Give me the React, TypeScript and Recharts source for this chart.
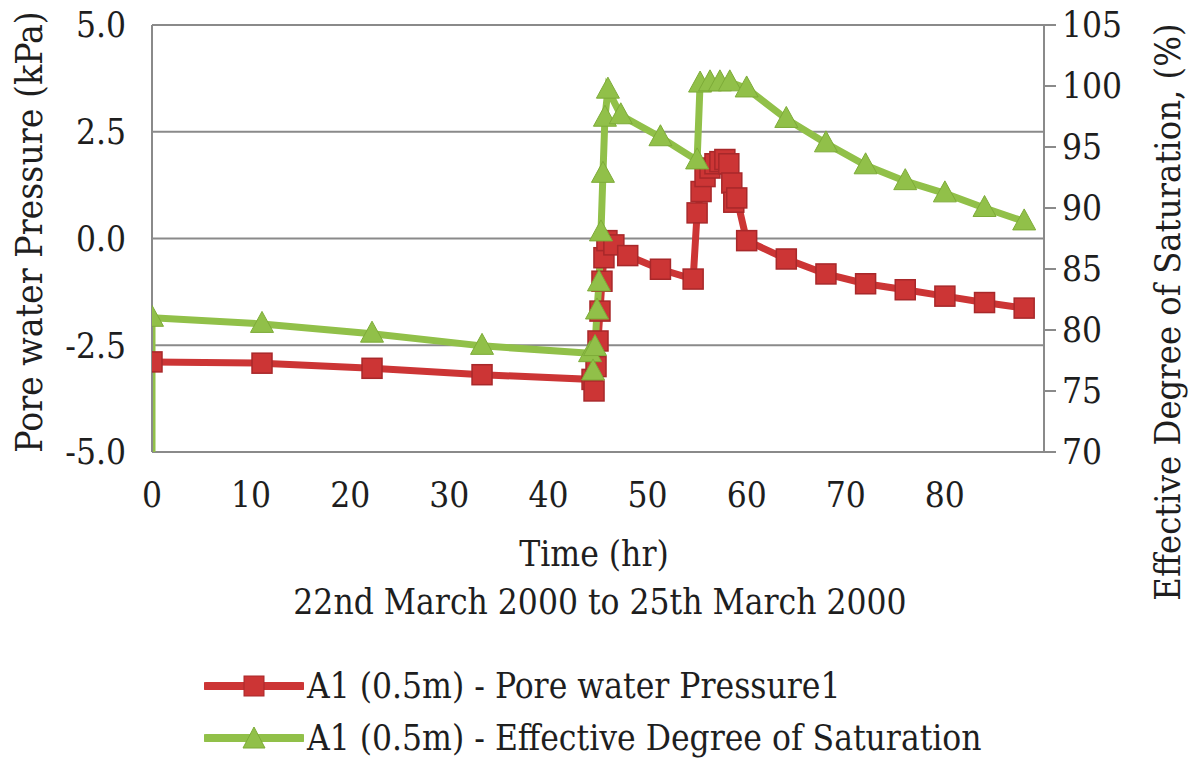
import React from "react";
import {
  ComposedChart,
  Line,
  XAxis,
  YAxis,
  CartesianGrid,
  Legend,
} from "recharts";

// Time (hr) of each pore water pressure reading, A1 at 0.5 m depth
const pressureTimes = [
  0, 11.1, 22.2, 33.3, 44.4, 44.6, 44.8, 45.0, 45.2, 45.4, 45.6, 45.9, 46.6,
  48.0, 51.3, 54.6, 55.0, 55.4, 55.8, 56.3, 56.8, 57.3, 57.8, 58.2, 58.5, 58.7,
  59.0, 60.0, 64, 68, 72, 76, 80, 84, 88,
];
// Pore water pressure (kPa)
const pressureValues = [
  -2.89, -2.92, -3.04, -3.19, -3.3, -3.57, -3.0, -2.4, -1.7, -1.0, -0.45,
  -0.05, -0.15, -0.4, -0.72, -0.95, 0.6, 1.1, 1.45, 1.65, 1.75, 1.8, 1.85, 1.75,
  1.3, 0.85, 0.95, -0.05, -0.48, -0.83, -1.06, -1.2, -1.35, -1.5, -1.63,
];

// Time (hr) of each effective degree of saturation reading
const saturationTimes = [
  0, 0, 11.1, 22.2, 33.3, 44.2, 44.5, 44.7, 44.9, 45.1, 45.3, 45.5, 45.7, 46.0,
  47.3, 51.3, 55.0, 55.3, 56.3, 57.3, 58.3, 60.0, 64, 68, 72, 76, 80, 84, 88,
];
// Effective degree of saturation (%)
const saturationValues = [
  0, 81.0, 80.5, 79.7, 78.7, 78.1, 76.6, 78.6, 81.6, 83.9, 88.0, 92.8, 97.4,
  99.7, 97.6, 95.8, 93.9, 100.2, 100.3, 100.3, 100.3, 99.8, 97.3, 95.3, 93.5,
  92.2, 91.2, 90.0, 88.9,
];

const timeTicks = [0, 10, 20, 30, 40, 50, 60, 70, 80];
const pressureTicks = [-5, -2.5, 0, 2.5, 5];
const saturationTicks = [70, 75, 80, 85, 90, 95, 100, 105];

const pressureName = "A1 (0.5m) - Pore water Pressure1";
const saturationName = "A1 (0.5m) - Effective Degree of Saturation";

const pressureData = pressureTimes.map((t, i) => ({ t, v: pressureValues[i] }));
const saturationData = saturationTimes.map((t, i) => ({
  t,
  v: saturationValues[i],
}));

const RED = "#cc3535";
const RED_EDGE = "#a8282a";
const GREEN = "#91c049";
const GREEN_EDGE = "#7dab38";
const GRID = "#8a8a8a";
const TEXT = "#1e1e1e";
const FONT = "DejaVu Serif Condensed, DejaVu Serif, serif";
const textStyle = { fontFamily: FONT, fontStretch: "condensed" } as const;

const Square = (props: any) => {
  const { cx, cy } = props;
  if (cx == null || cy == null) return <g />;
  const s = 20;
  return (
    <rect
      x={cx - s / 2}
      y={cy - s / 2}
      width={s}
      height={s}
      fill={RED}
      stroke={RED_EDGE}
      strokeWidth={1.5}
    />
  );
};

const Triangle = (props: any) => {
  const { cx, cy } = props;
  if (cx == null || cy == null) return <g />;
  const w = 23;
  const h = 21;
  return (
    <polygon
      points={`${cx},${cy - h / 2 - 2} ${cx - w / 2},${cy + h / 2 - 2} ${cx + w / 2},${cy + h / 2 - 2}`}
      fill={GREEN}
      stroke={GREEN_EDGE}
      strokeWidth={1}
    />
  );
};

const LegendIcon = ({ kind }: { kind: "square" | "triangle" }) => (
  <svg width={100} height={30} style={{ display: "block" }}>
    <line
      x1={2}
      y1={15}
      x2={98}
      y2={15}
      stroke={kind === "square" ? RED : GREEN}
      strokeWidth={8}
      strokeLinecap="round"
    />
    {kind === "square" ? (
      <rect x={40} y={5} width={20} height={20} fill={RED} stroke={RED_EDGE} />
    ) : (
      <polygon points="50,4 39,25 61,25" fill={GREEN} stroke={GREEN_EDGE} />
    )}
  </svg>
);

const renderLegend = () => (
  <div style={{ ...textStyle, fontSize: 35, color: TEXT, lineHeight: "52px" }}>
    {[
      { name: pressureName, kind: "square" as const },
      { name: saturationName, kind: "triangle" as const },
    ].map((row) => (
      <div key={row.name} style={{ display: "flex", alignItems: "center" }}>
        <LegendIcon kind={row.kind} />
        <span style={{ marginLeft: 3, whiteSpace: "nowrap" }}>{row.name}</span>
      </div>
    ))}
  </div>
);

const TimeLabel = (props: any) => {
  const { viewBox } = props;
  const cx = viewBox.x + viewBox.width / 2;
  return (
    <g style={textStyle} fontSize={35} fill={TEXT} textAnchor="middle">
      <text x={cx - 4} y={566}>
        Time (hr)
      </text>
      <text x={cx + 2} y={614}>
        22nd March 2000 to 25th March 2000
      </text>
    </g>
  );
};

const PressureLabel = () => (
  <text
    x={0}
    y={0}
    transform="translate(42, 232) rotate(-90)"
    textAnchor="middle"
    style={textStyle}
    fontSize={37}
    fill={TEXT}
  >
    Pore water Pressure (kPa)
  </text>
);

const SaturationLabel = () => (
  <text
    x={0}
    y={0}
    transform="translate(1180, 312) rotate(-90)"
    textAnchor="middle"
    style={textStyle}
    fontSize={36}
    fill={TEXT}
  >
    Effective Degree of Saturation, (%)
  </text>
);

const tickStyle = { ...textStyle, fontSize: 35, fill: TEXT };

export default function App() {
  return (
    <div
      style={{
        position: "absolute",
        left: 0,
        top: 0,
        width: 1197,
        height: 762,
        background: "#ffffff",
        ...textStyle,
      }}
    >
      <ComposedChart
        width={1197}
        height={762}
        margin={{ top: 25, right: 0, bottom: 0, left: 0 }}
        style={textStyle}
      >
        <CartesianGrid
          yAxisId="p"
          vertical={false}
          stroke={GRID}
          strokeWidth={2}
        />
        <XAxis
          dataKey="t"
          type="number"
          domain={[0, 90]}
          ticks={timeTicks}
          allowDataOverflow
          axisLine={false}
          tickLine={false}
          tickSize={0}
          tickMargin={30}
          height={310}
          tick={tickStyle}
          label={<TimeLabel />}
        />
        <YAxis
          yAxisId="p"
          orientation="left"
          width={152}
          domain={[-5, 5]}
          ticks={pressureTicks}
          allowDataOverflow
          tickFormatter={(v: number) => v.toFixed(1)}
          axisLine={{ stroke: GRID, strokeWidth: 2 }}
          tickLine={false}
          tickSize={0}
          tickMargin={26}
          tick={tickStyle}
          label={<PressureLabel />}
        />
        <YAxis
          yAxisId="s"
          orientation="right"
          width={153}
          domain={[70, 105]}
          ticks={saturationTicks}
          allowDataOverflow
          axisLine={{ stroke: GRID, strokeWidth: 2 }}
          tickLine={{ stroke: GRID, strokeWidth: 2 }}
          tickSize={12}
          tickMargin={6}
          tick={tickStyle}
          label={<SaturationLabel />}
        />
        <Legend
          layout="vertical"
          verticalAlign="middle"
          align="center"
          content={renderLegend}
          wrapperStyle={{ position: "absolute", left: 204, top: 660, width: 900 }}
        />
        <Line
          yAxisId="p"
          data={pressureData}
          dataKey="v"
          name={pressureName}
          stroke={RED}
          strokeWidth={7}
          dot={<Square />}
          activeDot={false}
          isAnimationActive={false}
        />
        <Line
          yAxisId="s"
          data={saturationData}
          dataKey="v"
          name={saturationName}
          stroke={GREEN}
          strokeWidth={7}
          dot={<Triangle />}
          activeDot={false}
          isAnimationActive={false}
        />
      </ComposedChart>
    </div>
  );
}
